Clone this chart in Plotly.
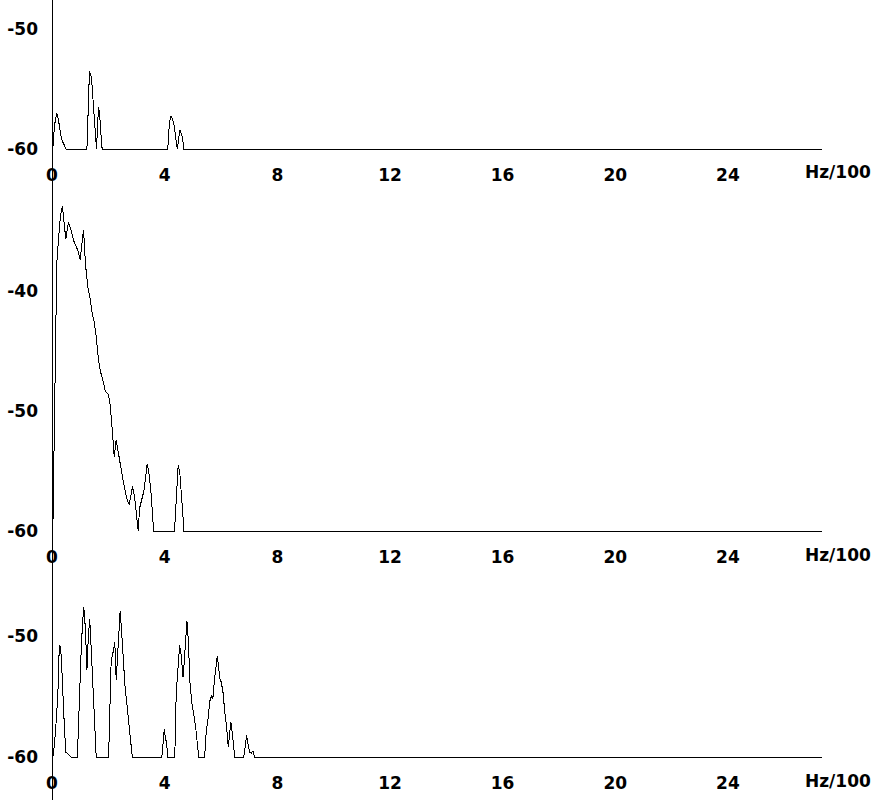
import plotly.graph_objects as go

# Frequency axis in Hz/100, level in dB
x_ticks = [0, 4, 8, 12, 16, 20, 24]
x_max = 27.34

p1_x = [0.03, 0.09, 0.17, 0.23, 0.34, 0.50, 1.24, 1.26, 1.33, 1.40, 1.44, 1.48, 1.51, 1.55, 1.58,
        1.65, 1.69, 1.72, 1.78, 4.11, 4.17, 4.23, 4.32, 4.39, 4.45, 4.54, 4.63, 4.68, 27.34]
p1_y = [-60, -58, -57.0, -57.6, -59.2, -60, -60, -58.4, -53.5, -54.0, -55.5, -56.4, -58, -58.9, -60,
        -56.5, -57, -58.2, -60, -60, -57.8, -57.25, -57.8, -59, -60, -58.4, -59, -60, -60]

p2_x = [0.03, 0.06, 0.11, 0.17, 0.23, 0.30, 0.37, 0.43, 0.49, 0.58, 0.66, 0.76, 0.86, 0.93, 1.00,
        1.07, 1.12, 1.19, 1.27, 1.36, 1.43, 1.50, 1.57, 1.64, 1.71, 1.80, 1.90, 2.00, 2.07, 2.14,
        2.21, 2.28, 2.35, 2.43, 2.52, 2.60, 2.67, 2.74, 2.80, 2.86, 2.93, 2.99, 3.06, 3.11, 3.19,
        3.26, 3.32, 3.38, 3.45, 3.52, 3.58, 3.62, 4.35, 4.39, 4.42, 4.48, 4.54, 4.60, 4.65, 4.68,
        27.34]
p2_y = [-60, -54.8, -44.1, -37.7, -35.75, -33.7, -32.9, -34.1, -35.7, -34.3, -34.8, -35.75, -36.4,
        -36.7, -37.4, -35.75, -34.9, -37.8, -39.6, -40.75, -41.9, -42.6, -43.8, -45.5, -46.6, -47.4,
        -48.4, -48.6, -49.6, -51.6, -53.8, -52.4, -53.5, -54.6, -55.75, -56.7, -57.4, -57.8, -56.9,
        -56.3, -57.1, -58.25, -60, -58.1, -57.4, -56.7, -55.6, -54.4, -55.3, -56.9, -59.1, -60,
        -60, -58.25, -56, -54.5, -55.2, -56.9, -58.8, -60, -60]

p3_x = [0.03, 0.09, 0.15, 0.21, 0.24, 0.28, 0.33, 0.38, 0.44, 0.49, 0.56, 0.62, 0.68, 0.90, 0.93,
        0.98, 1.04, 1.09, 1.13, 1.19, 1.24, 1.29, 1.34, 1.40, 1.45, 1.51, 1.57, 2.01, 2.04, 2.10,
        2.17, 2.23, 2.28, 2.34, 2.37, 2.42, 2.47, 2.53, 2.59, 2.66, 2.73, 2.79, 2.85, 3.90, 3.95,
        3.99, 4.02, 4.07, 4.11, 4.36, 4.41, 4.47, 4.53, 4.59, 4.65, 4.70, 4.74, 4.79, 4.84, 4.90,
        4.96, 5.03, 5.10, 5.16, 5.21, 5.42, 5.48, 5.55, 5.60, 5.67, 5.71, 5.77, 5.83, 5.87, 5.91,
        5.96, 6.01, 6.07, 6.14, 6.20, 6.26, 6.31, 6.35, 6.39, 6.44, 6.49, 6.81, 6.86, 6.91, 6.96,
        7.02, 7.08, 7.13, 7.20, 27.34]
p3_y = [-60, -58.9, -57.0, -54.75, -51.85, -50.7, -51.7, -54.75, -57.5, -59.6, -59.7, -59.9, -60,
        -60, -58.1, -53.9, -50.9, -48.7, -47.6, -49.5, -52.8, -50.05, -48.6, -51.4, -54.1, -56.1,
        -60, -60, -57.2, -52.1, -51.3, -50.5, -53.6, -51.4, -49.5, -47.9, -49.5, -52.1, -54.1,
        -55.6, -57.2, -58.6, -60, -60, -58.3, -57.65, -58.3, -58.9, -60, -60, -54.75, -52.8,
        -50.75, -51.6, -53.4, -52.0, -50.3, -48.7, -50.3, -53.9, -55.4, -56.3, -57.5, -58.9, -60,
        -60, -57.8, -56.7, -55.4, -54.9, -55.2, -53.6, -52.5, -51.6, -52.5, -53.5, -53.8, -54.6,
        -56.4, -57.5, -59.2, -58.1, -57.1, -57.8, -59.0, -60, -60, -58.9, -58.2, -58.9, -59.6,
        -59.7, -59.5, -60, -60]

y_ticks = [[-60, -50], [-60, -50, -40], [-60, -50]]
y_ranges = [[-60.167, -47.58], [-60.167, -31.17], [-60.166, -45.75]]
y_domains = [[0.81125, 1.0], [0.33375, 0.76875], [0.05125, 0.26875]]
x_unit_label = "Hz/100"

font = dict(family="DejaVu Sans", size=17, color="black", weight="bold")

fig = go.Figure()
series = [(p1_x, p1_y), (p2_x, p2_y), (p3_x, p3_y)]
for i, (xs, ys) in enumerate(series):
    n = "" if i == 0 else str(i + 1)
    fig.add_trace(go.Scatter(x=xs, y=ys, mode="lines", line=dict(color="black", width=1),
                             xaxis="x" + n, yaxis="y" + n, showlegend=False, hoverinfo="skip"))

layout = dict(width=884, height=800, margin=dict(l=52, r=62, t=0, b=0, autoexpand=False),
              paper_bgcolor="white", plot_bgcolor="white", showlegend=False)
for i in range(3):
    n = "" if i == 0 else str(i + 1)
    layout["xaxis" + n] = dict(range=[0, x_max], tickvals=x_ticks, ticktext=[str(t) for t in x_ticks],
                               anchor="y" + n, showgrid=False, zeroline=False, showline=False,
                               ticks="", tickfont=font, ticklabelstandoff=12, fixedrange=True,
                               automargin=False)
    layout["yaxis" + n] = dict(range=y_ranges[i], domain=y_domains[i], tickvals=y_ticks[i],
                               ticktext=[str(t) for t in y_ticks[i]], anchor="x" + n,
                               showgrid=False, zeroline=False, showline=False, ticks="",
                               tickfont=font, ticklabelstandoff=13, fixedrange=True,
                               automargin=False)
fig.update_layout(**layout)

fig.add_shape(type="line", xref="paper", yref="paper", x0=0, x1=0, y0=0, y1=1,
              line=dict(color="black", width=1))

for yb in [0.785, 0.306, 0.024]:
    fig.add_annotation(text=x_unit_label, xref="paper", yref="paper", x=1.0208, y=yb,
                       xanchor="center", yanchor="middle", showarrow=False, font=font)

fig.write_html("out.html", config={"displayModeBar": False},
               post_script="document.body.style.margin='0';document.body.style.overflow='hidden';"
                           "document.querySelectorAll('path').forEach(function(p){p.style.shapeRendering='crispEdges';});")
